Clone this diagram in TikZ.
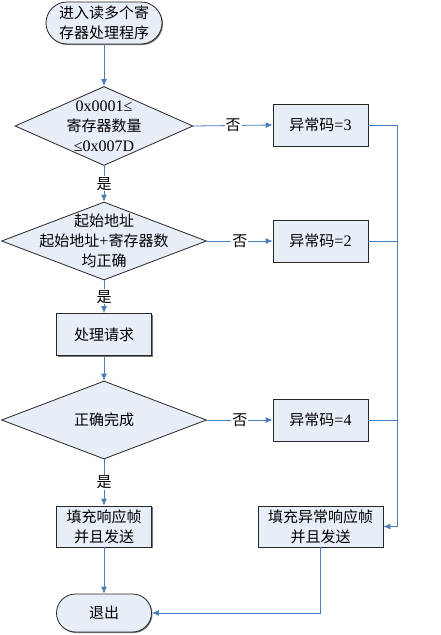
\documentclass[tikz,border=0pt]{standalone}
\usepackage{fontspec}
\setmainfont{Liberation Serif}
\newfontfamily\cjk{Noto Sans CJK SC}
\usetikzlibrary{shapes.geometric,arrows.meta,shadows}
\definecolor{fillc}{HTML}{E8EEF7}
\definecolor{linec}{HTML}{4A7EBB}
\newcommand{\lat}[1]{{\rmfamily\fontsize{16}{20}\selectfont #1}}
\tikzset{
  base/.style={draw=black!85, fill=fillc, line width=0.8pt, font=\cjk\fontsize{15}{20}\selectfont, align=center, inner sep=0pt},
  procbox/.style={base, rectangle, minimum height=42pt, drop shadow={shadow xshift=1pt, shadow yshift=-1pt, fill=black!55, opacity=1}},
  termbox/.style={base, rectangle, drop shadow={shadow xshift=1pt, shadow yshift=-1pt, fill=black!55, opacity=1}},
  decbox/.style={base, diamond},
  dectext/.style={font=\cjk\fontsize{15}{20}\selectfont, align=center, inner sep=0pt},
  wire/.style={draw=linec, line width=0.8pt},
  conn/.style={wire, -{Latex[length=7pt,width=6pt]}},
  lab/.style={fill=white, inner sep=1pt, font=\cjk\fontsize{15}{18}\selectfont}
}
\begin{document}
\begin{tikzpicture}[x=1pt,y=-1pt]
\useasboundingbox (0,0) rectangle (441,635);
% nodes
\node[termbox, minimum width=116pt, minimum height=42pt, rounded corners=21pt] (st) at (104,23) {进入读多个寄\\存器处理程序};
\node[decbox, minimum width=178pt, minimum height=79pt] (d1) at (104,126) {};
\node[dectext] at (d1) {\lat{0x0001≤}\\寄存器数量\\\lat{≤0x007D}};
\node[decbox, minimum width=205pt, minimum height=78pt] (d2) at (104,241) {};
\node[dectext] at (d2) {起始地址\\起始地址\lat{+}寄存器数\\均正确};
\node[procbox, minimum width=95pt] (pr) at (104,334.5) {处理请求};
\node[decbox, minimum width=205pt, minimum height=78pt] (d3) at (104,420) {};
\node[dectext] at (d3) {正确完成};
\node[procbox, minimum width=95pt, minimum height=41pt] (f1) at (104,526.5) {填充响应帧\\并且发送};
\node[termbox, minimum width=95pt, minimum height=38pt, rounded corners=19pt] (ex) at (104,613) {退出};
\node[procbox, minimum width=95pt] (e3) at (320.5,125) {异常码\lat{=3}};
\node[procbox, minimum width=95pt] (e2) at (320.5,241) {异常码\lat{=2}};
\node[procbox, minimum width=95pt] (e4) at (320.5,420) {异常码\lat{=4}};
\node[procbox, minimum width=125pt, minimum height=41pt] (f2) at (320.5,526.5) {填充异常响应帧\\并且发送};
\coordinate (r3) at (397,125);
% connectors
\draw[conn] (st) -- (d1);
\draw[conn] (d1) -- node[lab]{是} (d2);
\draw[conn] (d2) -- node[lab]{是} (pr);
\draw[conn] (pr) -- (d3);
\draw[conn] (d3) -- node[lab]{是} (f1);
\draw[conn] (f1) -- (ex);
\draw[conn] (d1.east) -- node[lab]{否} (e3.west);
\draw[conn] (d2.east) -- node[lab]{否} (e2.west);
\draw[conn] (d3.east) -- node[lab]{否} (e4.west);
\draw[conn] (e3.east) -- (r3) -- (r3 |- f2.east) -- (f2.east);
\draw[wire] (e2.east) -- (e2.east -| r3);
\draw[wire] (e4.east) -- (e4.east -| r3);
\draw[conn] (f2.south) |- (ex.east);
\end{tikzpicture}
\end{document}
